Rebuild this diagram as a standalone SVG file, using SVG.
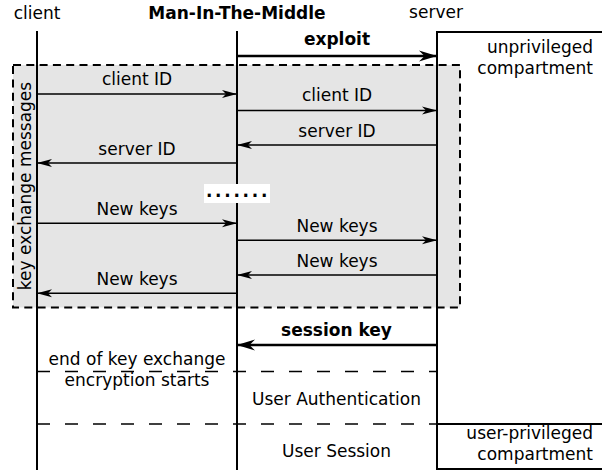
<svg xmlns="http://www.w3.org/2000/svg" width="602" height="470" viewBox="0 0 602 470">
<style>
text{font-family:"DejaVu Sans","Liberation Sans",sans-serif;font-size:17px;fill:#000}
.c{text-anchor:middle}
.e{text-anchor:end}
.b{font-weight:bold}
.life{stroke:#000;stroke-width:2;fill:none}
.msg{stroke:#000;stroke-width:1.5;fill:none;marker-end:url(#ah)}
.big{stroke:#000;stroke-width:2.6;fill:none;marker-end:url(#ahb)}
.sep{stroke:#000;stroke-width:1.5;stroke-dasharray:13 15;fill:none}
</style>
<defs>
<marker id="ah" viewBox="-16 -5 16 10" refX="0" refY="0" markerWidth="16" markerHeight="10" markerUnits="userSpaceOnUse" orient="auto">
<path d="M0,0 L-15,-4 L-11,0 L-15,4 Z" fill="#000"/>
</marker>
<marker id="ahb" viewBox="-19 -6 19 12" refX="0" refY="0" markerWidth="19" markerHeight="12" markerUnits="userSpaceOnUse" orient="auto">
<path d="M0,0 L-18,-5.5 L-12.5,0 L-18,5.5 Z" fill="#000"/>
</marker>
</defs>
<rect width="602" height="470" fill="#fff"/>

<g id="server-compartments">
<path d="M437,470 V32 H605" class="life"/>
<line x1="437" y1="424" x2="605" y2="424" class="life"/>
<line x1="437" y1="469" x2="605" y2="469" class="life"/>
</g>

<g id="key-exchange-box">
<rect x="13" y="65" width="447" height="242.5" fill="#e5e5e5" stroke="#000" stroke-width="2" stroke-dasharray="8 5.3"/>
<text class="c" transform="translate(31,186) rotate(-90)">key exchange messages</text>
</g>

<g id="client">
<text class="c" x="37" y="19">client</text>
<line x1="37" y1="31" x2="37" y2="470" class="life"/>
</g>
<g id="mitm">
<text class="c b" x="237" y="19">Man-In-The-Middle</text>
<line x1="237" y1="31" x2="237" y2="470" class="life"/>
</g>
<g id="server">
<text class="c" x="436" y="18">server</text>
<line x1="437" y1="32" x2="437" y2="470" class="life"/>
</g>

<g id="unprivileged">
<text class="e" x="593" y="53">unprivileged</text>
<text class="e" x="593" y="74">compartment</text>
</g>
<g id="user-privileged">
<text class="e" x="593" y="439">user-privileged</text>
<text class="e" x="593" y="460">compartment</text>
</g>

<g id="ellipsis">
<rect x="204" y="184" width="66" height="19" fill="#fff"/>
<text class="c b" x="238" y="197" style="letter-spacing:2.7px">.......</text>
</g>

<g id="connectors">
<line x1="237" y1="56" x2="437" y2="56" class="big"/>
<line x1="37" y1="94" x2="237" y2="94" class="msg"/>
<line x1="237" y1="110.5" x2="437" y2="110.5" class="msg"/>
<line x1="437" y1="145" x2="237" y2="145" class="msg"/>
<line x1="237" y1="163" x2="37" y2="163" class="msg"/>
<line x1="37" y1="223.3" x2="237" y2="223.3" class="msg"/>
<line x1="237" y1="240.3" x2="437" y2="240.3" class="msg"/>
<line x1="437" y1="275" x2="237" y2="275" class="msg"/>
<line x1="237" y1="293.3" x2="37" y2="293.3" class="msg"/>
<line x1="437" y1="345" x2="237" y2="345" class="big"/>
<line x1="37" y1="371.5" x2="437" y2="371.5" class="sep"/>
<line x1="37" y1="424" x2="437" y2="424" class="sep"/>
</g>

<g id="labels">
<text class="c b" x="337" y="45">exploit</text>
<text class="c" x="137" y="85">client ID</text>
<text class="c" x="337" y="101">client ID</text>
<text class="c" x="337" y="136.5">server ID</text>
<text class="c" x="137" y="154.5">server ID</text>
<text class="c" x="137" y="215">New keys</text>
<text class="c" x="337" y="231.7">New keys</text>
<text class="c" x="337" y="266.5">New keys</text>
<text class="c" x="137" y="285">New keys</text>
<text class="c b" x="336.5" y="336">session key</text>
<text class="c" x="137" y="365">end of key exchange</text>
<text class="c" x="137" y="386">encryption starts</text>
<text class="c" x="336.5" y="405">User Authentication</text>
<text class="c" x="336.5" y="457">User Session</text>
</g>
</svg>
